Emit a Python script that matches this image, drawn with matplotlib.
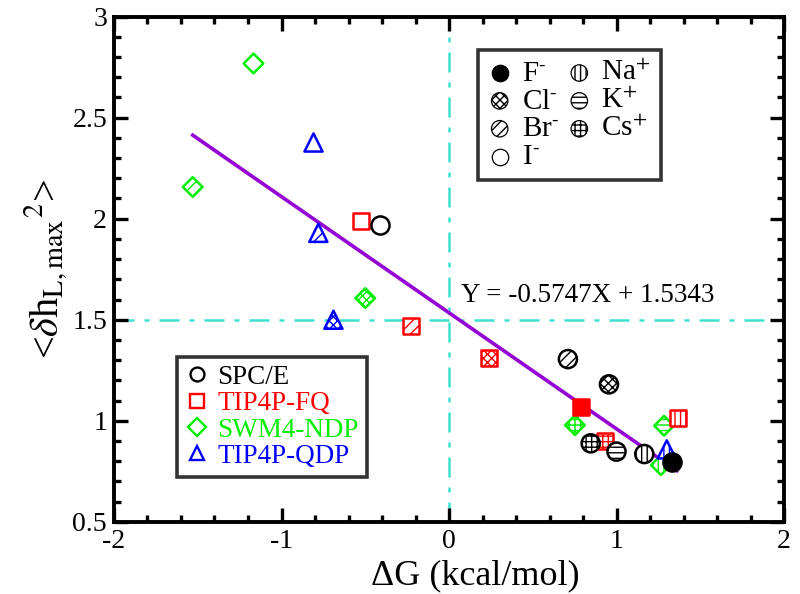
import matplotlib
matplotlib.use("Agg")
import matplotlib.pyplot as plt
from matplotlib.ticker import MultipleLocator, FuncFormatter

plt.rcParams['font.family'] = ['Liberation Serif', 'DejaVu Serif']
plt.rcParams['mathtext.fontset'] = 'stix'
plt.rcParams['hatch.linewidth'] = 1.0

# ---------------- data ----------------
ions = ['F', 'Cl', 'Br', 'I', 'Na', 'K', 'Cs']
ion_labels = [r'F$^{\text{-}}$', r'Cl$^{\text{-}}$', r'Br$^{\text{-}}$', r'I$^{\text{-}}$',
              'Na$^{+}$', 'K$^{+}$', 'Cs$^{+}$']
ion_hatch = {'F': None, 'Cl': 'xxxx', 'Br': '///', 'I': None, 'Na': '|||', 'K': '---', 'Cs': '+++'}

models = ['SPC/E', 'TIP4P-FQ', 'SWM4-NDP', 'TIP4P-QDP']
model_colors = {'SPC/E': 'black', 'TIP4P-FQ': '#ff0000', 'SWM4-NDP': '#00ee00', 'TIP4P-QDP': '#0000ff'}
model_markers = {'SPC/E': 'o', 'TIP4P-FQ': 's', 'SWM4-NDP': 'D', 'TIP4P-QDP': '^'}
model_sizes = {'SPC/E': 170, 'TIP4P-FQ': 140, 'SWM4-NDP': 100, 'TIP4P-QDP': 170}

# per-model points: ion, dG, <dh^2>
spce_ions = ['F', 'Cl', 'Br', 'I', 'Na', 'K', 'Cs']
spce_dg = [1.33, 0.955, 0.71, -0.41, 1.166, 1.00, 0.846]
spce_dh = [0.797, 1.18, 1.305, 1.97, 0.835, 0.847, 0.888]

fq_ions = ['F', 'Cl', 'Br', 'I', 'Na', 'Cs']
fq_dg = [0.79, 0.239, -0.227, -0.525, 1.367, 0.93]
fq_dh = [1.066, 1.31, 1.47, 1.99, 1.012, 0.90]

ndp_ions = ['Cl', 'Br', 'I', 'Na', 'K', 'Cs']
ndp_dg = [-0.50, -1.53, -1.17, 1.265, 1.284, 0.752]
ndp_dh = [1.607, 2.157, 2.77, 0.78, 0.975, 0.978]

qdp_ions = ['Cl', 'Br', 'I', 'Na']
qdp_dg = [-0.69, -0.78, -0.81, 1.30]
qdp_dh = [1.50, 1.93, 2.38, 0.858]

fit_slope = -0.5747
fit_intercept = 1.5343
fit_x = [-1.53, 1.36]

xticks = [-2, -1, 0, 1, 2]
yticks = [0.5, 1, 1.5, 2, 2.5, 3]

data = {
    'SPC/E': (spce_ions, spce_dg, spce_dh),
    'TIP4P-FQ': (fq_ions, fq_dg, fq_dh),
    'SWM4-NDP': (ndp_ions, ndp_dg, ndp_dh),
    'TIP4P-QDP': (qdp_ions, qdp_dg, qdp_dh),
}

# ---------------- figure ----------------
fig = plt.figure(figsize=(8, 5.94), dpi=100)
ax = fig.add_axes([0.1425, 0.1217, 0.8375, 0.8502])

dashdot = (0, (8, 4, 2, 4))
ax.axvline(0, color='#40e0d0', lw=1.8, ls=dashdot, zorder=1)
ax.axhline(1.5, color='#40e0d0', lw=1.8, ls=dashdot, zorder=1)

fy = [fit_slope * v + fit_intercept for v in fit_x]
ax.plot(fit_x, fy, color='#9400d3', lw=2.6, zorder=2)

zorders = {'SWM4-NDP': 3, 'TIP4P-QDP': 4, 'TIP4P-FQ': 5, 'SPC/E': 6}
for m in ['SWM4-NDP', 'TIP4P-QDP', 'TIP4P-FQ', 'SPC/E']:
    ilist, xs, ys = data[m]
    c = model_colors[m]
    for ion, xv, yv in zip(ilist, xs, ys):
        fc = c if ion == 'F' else 'white'
        ax.scatter([xv], [yv], s=model_sizes[m], marker=model_markers[m],
                   facecolors=fc, edgecolors=c, linewidths=1.8,
                   hatch=ion_hatch[ion], zorder=zorders[m])

ax.text(0.07, 1.62, 'Y = -0.5747X + 1.5343', fontsize=19.5, ha='left', va='center')

ax.set_xlim(-2, 2)
ax.set_ylim(0.5, 3)
ax.set_xticks(xticks)
ax.set_yticks(yticks)
fmt = FuncFormatter(lambda v, p: '%g' % v)
ax.xaxis.set_major_formatter(fmt)
ax.yaxis.set_major_formatter(fmt)
ax.xaxis.set_minor_locator(MultipleLocator(0.2))
ax.yaxis.set_minor_locator(MultipleLocator(0.1))
ax.tick_params(which='both', direction='in', top=True, right=True, labelsize=20, pad=5)
ax.tick_params(which='major', length=10, width=2.4)
ax.tick_params(which='minor', length=5, width=2.4)
for sp in ax.spines.values():
    sp.set_linewidth(2.8)

ax.set_xlabel('ΔG (kcal/mol)', fontsize=26, labelpad=0)
ax.xaxis.set_label_coords(0.54, -0.075)
ax.set_ylabel(r'<$\delta$h$_{\rm L,max}$$^{\rm 2}$>', fontsize=29, labelpad=2)

# ion legend
ion_handles = []
for ion, lab in zip(ions, ion_labels):
    fc = 'black' if ion == 'F' else 'white'
    h = ax.scatter([], [], s=140, marker='o', facecolors=fc, edgecolors='black',
                   linewidths=0.9, hatch=ion_hatch[ion], label=lab)
    ion_handles.append(h)
leg1 = ax.legend(handles=ion_handles, ncol=2, loc='upper left',
                 bbox_to_anchor=(0.543, 0.934), frameon=True, fancybox=False,
                 edgecolor='black', fontsize=21, handletextpad=0.35,
                 columnspacing=0.3, labelspacing=0.05, borderpad=0.35,
                 handlelength=0.8, borderaxespad=0)
leg1.get_frame().set_linewidth(2.6)
ax.add_artist(leg1)

# model legend
model_handles = []
for m in models:
    h, = ax.plot([], [], ls='none', marker=model_markers[m], markersize=10 if m != 'SWM4-NDP' else 9,
                 markerfacecolor='white', markeredgecolor=model_colors[m],
                 markeredgewidth=1.7, label=m)
    model_handles.append(h)
leg2 = ax.legend(handles=model_handles, loc='lower left', bbox_to_anchor=(0.094, 0.0885),
                 frameon=True, fancybox=False, edgecolor='black', fontsize=19.5,
                 handletextpad=0.3, labelspacing=0.05, borderpad=0.3,
                 handlelength=0.9, borderaxespad=0)
leg2.get_frame().set_linewidth(2.6)
for t, m in zip(leg2.get_texts(), models):
    t.set_color(model_colors[m])

fig.savefig('out.png', dpi=100)
